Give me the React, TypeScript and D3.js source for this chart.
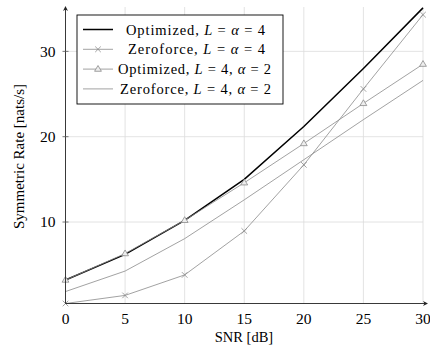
import * as d3 from 'd3';

const snr = [0, 5, 10, 15, 20, 25, 30];
const optA = [3.2, 6.2, 10.2, 15.0, 21.2, 28.0, 35.1];
const zfA = [0.45, 1.4, 3.8, 8.95, 16.7, 25.6, 34.3];
const optB = [3.2, 6.3, 10.2, 14.6, 19.2, 23.9, 28.5];
const zfB = [1.85, 4.25, 8.05, 12.6, 17.3, 22.0, 26.6];
const xTicks = [0, 5, 10, 15, 20, 25, 30];
const yTicks = [10, 20, 30];

const series = [
  { name: 'Optimized', math: 'A', values: optA, color: '#000', width: 1.5, marker: 'none' },
  { name: 'Zeroforce', math: 'A', values: zfA, color: '#8a8a8a', width: 0.8, marker: 'cross' },
  { name: 'Optimized', math: 'B', values: optB, color: '#8a8a8a', width: 0.8, marker: 'tri' },
  { name: 'Zeroforce', math: 'B', values: zfB, color: '#8a8a8a', width: 0.8, marker: 'none' },
];
// where each legend text starts and how wide it is in the reference
const legendStart = [126, 128, 118, 120];
const legendLen = [139, 137, 153, 151];

const W = 430;
const H = 351;
const m = { left: 65.5, right: 7, top: 7, bottom: 47.5 };
const font = '"Liberation Serif", "DejaVu Serif", serif';

const Marker = ({ kind, x, y, color }: { kind: string; x: number; y: number; color: string }) => {
  if (kind === 'cross') {
    const s = 2.8;
    return (
      <path d={`M${x - s},${y - s}L${x + s},${y + s}M${x - s},${y + s}L${x + s},${y - s}`} stroke={color} strokeWidth={0.8} />
    );
  }
  if (kind === 'tri') {
    const s = 3.6;
    return (
      <path
        d={`M${x},${y - s}L${x + s * 0.95},${y + s * 0.6}L${x - s * 0.95},${y + s * 0.6}Z`}
        stroke={color}
        strokeWidth={0.8}
        fill="#eee"
      />
    );
  }
  return null;
};

const Label = ({ name, math }: { name: string; math: string }) =>
  math === 'A' ? (
    <>
      {name}, <tspan fontStyle="italic">L</tspan> = <tspan fontStyle="italic">α</tspan> = 4
    </>
  ) : (
    <>
      {name}, <tspan fontStyle="italic">L</tspan> = 4, <tspan fontStyle="italic">α</tspan> = 2
    </>
  );

export default function App() {
  const x = d3.scaleLinear().domain([0, 30]).range([m.left, W - m.right]);
  const y = d3.scaleLinear().domain([0.45, 35.2]).range([H - m.bottom, m.top]);
  const line = d3
    .line<number>()
    .x((_, i) => x(snr[i]))
    .y((d) => y(d));

  const x0 = x(0);
  const y0 = y.range()[0];
  const yTop = y.range()[1];
  const xEnd = x(30);

  return (
    <svg width={W} height={H} style={{ position: 'absolute', left: 0, top: 0 }} fontFamily={font}>
      <rect width={W} height={H} fill="#fff" />
      {/* grid */}
      {xTicks.slice(1).map((t) => (
        <line key={'gx' + t} x1={x(t)} x2={x(t)} y1={y0} y2={yTop} stroke="#dcdcdc" strokeWidth={0.8} />
      ))}
      {yTicks.map((t) => (
        <line key={'gy' + t} x1={x0} x2={xEnd} y1={y(t)} y2={y(t)} stroke="#dcdcdc" strokeWidth={0.8} />
      ))}
      {/* series */}
      {series.map((s, i) => (
        <g key={i}>
          <path d={line(s.values) || ''} fill="none" stroke={s.color} strokeWidth={s.width} />
          {s.values.map((v, j) => (
            <Marker key={j} kind={s.marker} x={x(snr[j])} y={y(v)} color={s.color} />
          ))}
        </g>
      ))}
      {/* axes */}
      <line x1={x0} x2={x0} y1={y0} y2={yTop + 2} stroke="#222" strokeWidth={0.9} />
      <path d={`M${x0},${yTop - 1}l-2.5,5l2.5,-1.5l2.5,1.5Z`} fill="#222" />
      <line x1={x0} x2={W - 4} y1={y0} y2={y0} stroke="#222" strokeWidth={0.9} />
      <path d={`M${W - 2},${y0}l-5,-2.5l1.5,2.5l-1.5,2.5Z`} fill="#222" />
      {yTicks.map((t) => (
        <g key={'ty' + t}>
          <line x1={x0 - 3} x2={x0 + 3} y1={y(t)} y2={y(t)} stroke="#555" strokeWidth={0.8} />
          <text x={x0 - 10} y={y(t)} dy="0.35em" textAnchor="end" fontSize={15.5}>
            {t}
          </text>
        </g>
      ))}
      {xTicks.map((t) => (
        <text key={'tx' + t} x={x(t)} y={y0 + 20} textAnchor="middle" fontSize={15.5}>
          {t}
        </text>
      ))}
      <text x={244} y={342} textAnchor="middle" fontSize={14.5}>
        SNR [dB]
      </text>
      <text transform={`translate(24,156.5) rotate(-90)`} textAnchor="middle" fontSize={15}>
        Symmetric Rate [nats/s]
      </text>
      {/* legend */}
      <g>
        <rect x={77} y={15} width={206} height={89} fill="#fff" stroke="#000" strokeWidth={0.9} />
        {series.map((s, i) => {
          const ly = 29.5 + i * 19.8;
          return (
            <g key={'lg' + i}>
              <line x1={83} x2={113} y1={ly} y2={ly} stroke={s.color} strokeWidth={s.width} />
              <Marker kind={s.marker} x={98} y={ly} color={s.color} />
              <text
                x={legendStart[i]}
                y={ly}
                dy="0.35em"
                fontSize={14.5}
                textLength={legendLen[i]}
                lengthAdjust="spacing"
              >
                <Label name={s.name} math={s.math} />
              </text>
            </g>
          );
        })}
      </g>
    </svg>
  );
}
